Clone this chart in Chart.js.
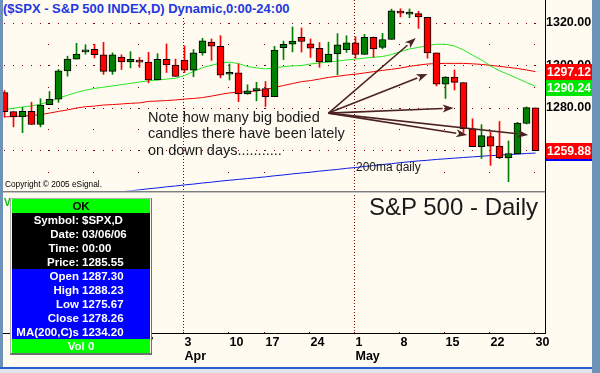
<!DOCTYPE html>
<html>
<head>
<meta charset="utf-8">
<title>S&amp;P 500 - Daily</title>
<script src="https://cdn.jsdelivr.net/npm/chart.js@4.4.1/dist/chart.umd.min.js"></script>
<style>
  html, body { margin:0; padding:0; background:#fffbf0; }
  #wrap { position:relative; width:600px; height:373px; overflow:hidden; background:#fffbf0; font-family: Arial, "Liberation Sans", sans-serif; }
  #chart { position:absolute; left:0; top:0; }
  .t { position:absolute; white-space:nowrap; }
  .fr { position:absolute; }
  #frameL { left:0; top:0; width:3px; height:373px; background:#6f92b8; }
  #frameR { left:592px; top:0; width:8px; height:373px; background:#6f92b8; }
  #frameB { left:0; top:367px; width:592px; height:2px; background:#2a5fd0; }
  #frameB2 { left:0; top:369px; width:592px; height:4px; background:#dde4ec; }
  #title { left:3px; top:0; height:17px; line-height:18px; padding-right:4px; font-weight:bold; font-size:13px; color:#2238e0; background:#fffbf0; }
  #note { left:148px; top:108.6px; font-size:14.5px; line-height:16.7px; color:#1a1a1a; }
  #ma200 { left:356px; top:160px; font-size:12px; line-height:14px; color:#1a1a1a; }
  #copy { left:5px; top:179px; font-size:8.3px; line-height:10px; color:#000; }
  #big { right:62px; top:193.4px; font-size:24px; line-height:28px; color:#1a1a1a; }
  #vlab { left:4px; top:196.7px; font-size:10px; line-height:12px; font-weight:bold; color:#00c000; }
  #dw { position:absolute; left:10px; top:198px; width:142px; height:157px; box-sizing:border-box; border-style:solid; border-width:1px 1px 2px 1px; border-color:#b0b0b0 #707070 #707070 #b0b0b0; padding:0 1px; background:#fffbf0; font-weight:bold; font-size:11.5px; }
  #dw .r { height:14px; line-height:14px; white-space:nowrap; overflow:hidden; }
  #dw .g { background:#00ff00; text-align:center; color:#000; }
  #dw .k { background:#000; color:#fff; }
  #dw .b { background:#0000ff; color:#fff; }
  #dw .l { display:inline-block; text-align:right; }
</style>
</head>
<body>
<div id="wrap">
  <canvas id="chart" width="600" height="373"></canvas>
  <div class="fr" id="frameL"></div>
  <div class="fr" id="frameR"></div>
  <div class="fr" id="frameB"></div>
  <div class="fr" id="frameB2"></div>
  <div class="t" id="title">($SPX - S&amp;P 500 INDEX,D) Dynamic,0:00-24:00</div>
  <div class="t" id="note">Note how many big bodied<br>candles there have been lately<br>on down days...........</div>
  <div class="t" id="ma200">200ma daily</div>
  <div class="t" id="copy">Copyright © 2005 eSignal.</div>
  <div class="t" id="big">S&amp;P 500 - Daily</div>
  <div class="t" id="vlab">V</div>
  <div id="dw"></div>
</div>
<script>
// ---------------- DATA ----------------
const dates = ['03/06/06','03/07/06','03/08/06','03/09/06','03/10/06','03/13/06','03/14/06','03/15/06','03/16/06','03/17/06',
  '03/20/06','03/21/06','03/22/06','03/23/06','03/24/06','03/27/06','03/28/06','03/29/06','03/30/06','03/31/06',
  '04/03/06','04/04/06','04/05/06','04/06/06','04/07/06','04/10/06','04/11/06','04/12/06','04/13/06','04/17/06',
  '04/18/06','04/19/06','04/20/06','04/21/06','04/24/06','04/25/06','04/26/06','04/27/06','04/28/06','05/01/06',
  '05/02/06','05/03/06','05/04/06','05/05/06','05/08/06','05/09/06','05/10/06','05/11/06','05/12/06','05/15/06',
  '05/16/06','05/17/06','05/18/06','05/19/06','05/22/06','05/23/06','05/24/06','05/25/06','05/26/06','05/30/06'];

const opens = [1287.30,1278.26,1275.88,1278.47,1272.23,1281.58,1284.13,1297.48,1303.02,1306.40,
  1307.60,1305.08,1297.23,1304.00,1301.70,1302.20,1301.61,1293.23,1302.89,1300.25,
  1302.50,1297.81,1305.93,1311.00,1309.04,1295.90,1296.60,1286.57,1288.12,1289.12,
  1285.33,1308.40,1310.00,1313.30,1310.20,1308.11,1301.74,1305.41,1307.40,1310.61,
  1305.19,1313.21,1308.50,1312.25,1325.50,1324.10,1324.40,1322.63,1305.92,1291.19,
  1294.50,1291.99,1270.25,1261.81,1266.50,1262.06,1256.56,1258.41,1272.71,1280.04];

const highs = [1288.23,1278.26,1280.33,1282.74,1284.37,1287.79,1298.14,1304.40,1310.45,1309.79,
  1310.00,1310.88,1305.97,1305.04,1306.53,1303.74,1306.24,1305.60,1310.15,1303.00,
  1309.19,1307.55,1312.81,1312.50,1314.07,1300.74,1300.71,1290.93,1292.09,1292.45,
  1309.02,1311.50,1318.16,1317.67,1312.50,1310.79,1310.97,1315.00,1314.00,1313.50,
  1314.66,1313.47,1315.14,1326.53,1326.70,1326.60,1325.51,1322.63,1305.92,1294.81,
  1297.88,1291.99,1274.89,1272.15,1268.77,1273.67,1264.53,1273.26,1280.54,1280.04];

const lows = [1275.67,1271.11,1268.42,1272.23,1271.11,1281.58,1282.67,1294.97,1303.02,1305.32,
  1303.59,1295.82,1295.81,1298.11,1298.89,1299.09,1291.84,1293.23,1296.72,1294.87,
  1296.65,1294.71,1304.82,1302.44,1294.18,1293.17,1282.96,1286.45,1283.37,1280.74,
  1285.33,1302.79,1306.38,1306.32,1303.79,1299.17,1301.74,1295.57,1306.16,1303.46,
  1305.19,1303.92,1307.85,1312.25,1322.87,1322.48,1317.44,1303.45,1290.38,1284.51,
  1288.51,1268.50,1261.75,1256.28,1252.98,1256.15,1245.34,1258.41,1272.50,1259.87];

const closes = [1278.26,1275.88,1278.47,1272.23,1281.42,1284.13,1297.48,1303.02,1305.33,1307.25,
  1305.08,1297.23,1305.04,1301.67,1302.95,1301.61,1293.23,1302.89,1300.25,1294.87,
  1297.81,1305.93,1311.56,1309.04,1295.50,1296.62,1286.57,1288.12,1289.12,1285.33,
  1307.28,1309.93,1311.46,1311.28,1308.11,1301.74,1305.41,1309.72,1310.61,1305.19,
  1313.21,1307.85,1312.25,1325.76,1324.66,1325.14,1322.85,1305.92,1291.24,1294.50,
  1292.08,1270.32,1261.81,1267.03,1262.07,1256.58,1258.57,1272.88,1280.16,1259.88];

// moving averages
const maFast = [1279.2,1279.9,1280.5,1281.0,1281.8,1283.0,1284.6,1286.0,1287.3,1288.4,
  1289.2,1289.8,1290.4,1291.0,1291.6,1292.2,1292.8,1293.2,1293.6,1294.0,
  1295.3,1297.2,1299.0,1300.1,1301.2,1301.6,1300.9,1299.5,1298.9,1298.4,
  1298.8,1299.5,1299.8,1300.0,1300.7,1301.2,1301.6,1302.1,1302.6,1303.0,
  1303.5,1303.9,1304.2,1305.2,1306.5,1307.8,1308.5,1309.4,1310.0,1310.0,
  1309.2,1307.3,1304.9,1302.6,1299.8,1297.5,1295.8,1293.9,1292.0,1290.24];

const maSlow = [1275.8,1276.0,1276.2,1276.5,1276.9,1277.6,1278.4,1279.1,1280.0,1280.6,
  1280.9,1281.4,1281.6,1281.9,1282.2,1282.4,1283.1,1283.3,1283.5,1283.8,
  1284.2,1284.5,1284.9,1285.6,1286.4,1287.1,1287.4,1287.7,1288.0,1288.7,
  1289.6,1290.6,1291.5,1292.4,1292.9,1293.6,1294.4,1294.9,1295.5,1295.9,
  1296.5,1297.1,1297.7,1298.2,1298.8,1299.6,1300.2,1300.7,1300.9,1301.0,
  1301.0,1301.0,1300.8,1300.5,1300.1,1299.6,1299.1,1298.6,1297.9,1297.12];

const maLong = [1234.2,1234.7,1235.2,1235.7,1236.2,1236.7,1237.2,1237.7,1238.2,1238.7,
  1239.2,1239.6,1240.1,1240.6,1241.0,1241.5,1242.0,1242.4,1242.9,1243.3,
  1243.8,1244.2,1244.7,1245.1,1245.6,1246.0,1246.4,1246.8,1247.2,1247.6,
  1248.1,1248.5,1249.0,1249.4,1249.8,1250.3,1250.7,1251.1,1251.6,1252.0,
  1252.5,1252.9,1253.4,1253.8,1254.3,1254.7,1255.1,1255.4,1255.8,1256.1,
  1256.4,1256.7,1257.0,1257.3,1257.6,1257.8,1258.1,1258.3,1258.6,1258.8];

// tick labels
const weekTicks   = [5,10,15,20,25,29,34,39,44,49,54,59];
const weekLabels  = ['13','20','27','3','10','17','24','1','8','15','22','30'];
const monthTickIdx = [20,39];
const monthNames   = ['Apr','May'];
const priceTicks  = [1260,1280,1300,1320];
const gridLevels  = [1320,1310,1300,1290,1280,1270,1260,1250];

// data window (cursor on first bar)
const symbol = '$SPX,D';
const cursorTime = '00:00';
const cursorPrice = '1285.55';
const volume = 0;

// annotation arrows (data coordinates: bar index, price)
const arrowFrom = {x: 36, y: 1277.6};
const arrowTargets = [{x:45.7,y:1312.9},{x:47,y:1296},{x:49.9,y:1280},{x:51.4,y:1267.3},{x:58.2,y:1267.3}];

// ---------------- DATA WINDOW ----------------
(function(){
  const dw = document.getElementById('dw');
  const rows = [
    {cls:'g', center:'OK'},
    {cls:'k', lab:'Symbol:', val:symbol},
    {cls:'k', lab:'Date:', val:dates[0]},
    {cls:'k', lab:'Time:', val:cursorTime},
    {cls:'k', lab:'Price:', val:cursorPrice},
    {cls:'b', lab:'Open', val:opens[0].toFixed(2)},
    {cls:'b', lab:'High', val:highs[0].toFixed(2)},
    {cls:'b', lab:'Low', val:lows[0].toFixed(2)},
    {cls:'b', lab:'Close', val:closes[0].toFixed(2)},
    {cls:'b', lab:'MA(200,C)s', val:maLong[0].toFixed(2)},
    {cls:'g', center:'Vol ' + volume, color:'#fff'}
  ];
  rows.forEach(r => {
    const d = document.createElement('div');
    d.className = 'r ' + r.cls;
    if (r.center !== undefined) {
      d.textContent = r.center;
      if (r.color) d.style.color = r.color;
    } else {
      const l = document.createElement('span');
      l.className = 'l'; l.style.width = '67px'; l.textContent = r.lab;
      const v = document.createElement('span');
      v.style.marginLeft = '3px'; v.textContent = r.val;
      d.appendChild(l); d.appendChild(v);
    }
    dw.appendChild(d);
  });
})();

// ---------------- CHART ----------------
const N = closes.length;
const idx = closes.map((_, i) => i);
const bodyColor = idx.map(i => closes[i] >= opens[i] ? '#008000' : '#ff0000');

const esPlugin = {
  id: 'esignal',
  beforeDatasetsDraw(chart) {
    const {ctx, chartArea: a, scales: {x, y}} = chart;
    ctx.save();
    ctx.fillStyle = '#800000';
    priceTicks.forEach(p => {
      const py = Math.round(y.getPixelForValue(p));
      idx.forEach(i => ctx.fillRect(Math.floor(x.getPixelForValue(i)), py, 1, 1));
    });
    weekTicks.forEach(t => {
      const px = Math.floor(x.getPixelForValue(t)) - 1;
      if (!monthTickIdx.includes(t)) {
        gridLevels.forEach(p => ctx.fillRect(px, Math.round(y.getPixelForValue(p)), 1, 1));
      }
      ctx.fillRect(px, a.bottom - 1, 1, 1);
    });
    monthTickIdx.forEach(t => {
      const px = Math.floor(x.getPixelForValue(t)) - 1;
      for (let yy = a.top; yy < a.bottom; yy += 3) ctx.fillRect(px, yy, 1, 1);
    });
    ctx.restore();
  },
  afterDatasetsDraw(chart) {
    const {ctx, chartArea: a, scales: {x, y}} = chart;
    ctx.save();
    // pane separator
    ctx.fillStyle = '#7f7f7f'; ctx.fillRect(a.left, 191, a.right - a.left, 1);
    ctx.fillStyle = '#c4c4c4'; ctx.fillRect(a.left, 192, a.right - a.left, 1);
    // arrows
    const ox = x.getPixelForValue(arrowFrom.x), oy = y.getPixelForValue(arrowFrom.y);
    ctx.strokeStyle = '#4b2222'; ctx.fillStyle = '#4b2222'; ctx.lineWidth = 1.6;
    arrowTargets.forEach(t => {
      const tx = x.getPixelForValue(t.x), ty = y.getPixelForValue(t.y);
      const ang = Math.atan2(ty - oy, tx - ox);
      const hl = 11, hw = 4;
      const bx = tx - hl * Math.cos(ang), by = ty - hl * Math.sin(ang);
      ctx.beginPath(); ctx.moveTo(ox, oy); ctx.lineTo(bx, by); ctx.stroke();
      ctx.beginPath();
      ctx.moveTo(tx, ty);
      ctx.lineTo(bx + hw * Math.sin(ang), by - hw * Math.cos(ang));
      ctx.lineTo(bx + 3 * Math.cos(ang), by + 3 * Math.sin(ang));
      ctx.lineTo(bx - hw * Math.sin(ang), by + hw * Math.cos(ang));
      ctx.closePath(); ctx.fill();
    });
    ctx.restore();
  },
  afterDraw(chart) {
    const {ctx, scales: {y}} = chart;
    const bx = y.left + 1, bw = chart.width - 8 - bx;
    const labels = [
      {v: maSlow[N-1], bg:'#ff0000'},
      {v: maFast[N-1], bg:'#00e600'},
      {v: closes[N-1], bg:'#ff0000', under:'#0000ff'}
    ];
    let prev = -1e9;
    ctx.save();
    ctx.font = 'bold 13px Arial, "Liberation Sans", sans-serif';
    ctx.textBaseline = 'middle'; ctx.textAlign = 'left';
    labels.forEach(l => {
      let top = Math.round(y.getPixelForValue(l.v) - 8);
      if (top < prev) top = prev;
      ctx.fillStyle = l.bg; ctx.fillRect(bx, top, bw, 16);
      if (l.under) { ctx.fillStyle = l.under; ctx.fillRect(bx, top + 16, bw, 2); }
      ctx.fillStyle = '#ffffff';
      ctx.fillText(l.v.toFixed(2), bx + 1, top + 8.5, bw - 2);
      prev = top + 16;
    });
    ctx.restore();
  }
};

const yMax = 1280 + 108 / 2.125;
const yMin = 1280 - 225 / 2.125;
const xMin = -1 / 6;
const xMax = xMin + 542 / 9;

function noPad(s) { s.paddingTop = 0; s.paddingBottom = 0; s.paddingLeft = 0; s.paddingRight = 0; }

new Chart(document.getElementById('chart'), {
  type: 'bar',
  data: {
    datasets: [
      { label: 'body', data: idx.map(i => ({x: i, y: [opens[i], closes[i]]})),
        backgroundColor: bodyColor, borderColor: '#000000', borderWidth: 1, borderSkipped: false,
        barPercentage: 1, categoryPercentage: 1, maxBarThickness: 7, minBarLength: 2, grouped: false, order: 0 },
      { label: 'wick', data: idx.map(i => ({x: i, y: [lows[i], highs[i]]})),
        backgroundColor: bodyColor, borderWidth: 0,
        barPercentage: 1, categoryPercentage: 1, maxBarThickness: 1, grouped: false, order: 1 },
      { type: 'line', label: 'MA fast', data: idx.map(i => ({x: i, y: maFast[i]})),
        borderColor: '#22e822', borderWidth: 1, pointRadius: 0, tension: 0, order: 2,
        clip: {left: 0, top: 0, right: 0, bottom: -142.5} },
      { type: 'line', label: 'MA slow', data: idx.map(i => ({x: i, y: maSlow[i]})),
        borderColor: '#ee0000', borderWidth: 1, pointRadius: 0, tension: 0, order: 3,
        clip: {left: 0, top: 0, right: 0, bottom: -142.5} },
      { type: 'line', label: 'MA 200', data: idx.map(i => ({x: i, y: maLong[i]})),
        borderColor: '#0a1ee6', borderWidth: 1, pointRadius: 0, tension: 0, order: 4,
        clip: {left: 0, top: 0, right: 0, bottom: -142.5} }
    ]
  },
  options: {
    responsive: false, animation: false, devicePixelRatio: 1, events: [],
    layout: { padding: {left: 3, right: 8, top: 0, bottom: 0} },
    plugins: { legend: {display: false}, tooltip: {enabled: false} },
    scales: {
      x: {
        type: 'linear', min: xMin, max: xMax, offset: false,
        grid: {display: false, drawTicks: false},
        border: {display: true, color: '#000000', width: 1},
        afterBuildTicks: s => { s.ticks = weekTicks.map(v => ({value: v})); },
        afterFit: s => { s.height = 40; noPad(s); },
        ticks: {
          autoSkip: false, maxRotation: 0, minRotation: 0, align: 'start', padding: 3, color: '#000000',
          font: {family: 'Arial, "Liberation Sans", sans-serif', size: 12.5, weight: 'bold', lineHeight: 14 / 12.5},
          callback: (v) => {
            const k = weekTicks.indexOf(v);
            const m = monthTickIdx.indexOf(v);
            if (k < 0) return '';
            return m >= 0 ? [weekLabels[k], monthNames[m]] : weekLabels[k];
          }
        }
      },
      y: {
        position: 'right', min: yMin, max: yMax,
        grid: {display: false, drawTicks: false},
        border: {display: true, color: '#000000', width: 1},
        afterBuildTicks: s => { s.ticks = priceTicks.map(v => ({value: v})); },
        afterFit: s => { s.width = 47; noPad(s); },
        ticks: {
          padding: 1, color: '#000000',
          font: {family: 'Arial, "Liberation Sans", sans-serif', size: 12.5, weight: 'bold'},
          callback: v => Number(v).toFixed(2)
        }
      }
    }
  },
  plugins: [esPlugin]
});
</script>
</body>
</html>
